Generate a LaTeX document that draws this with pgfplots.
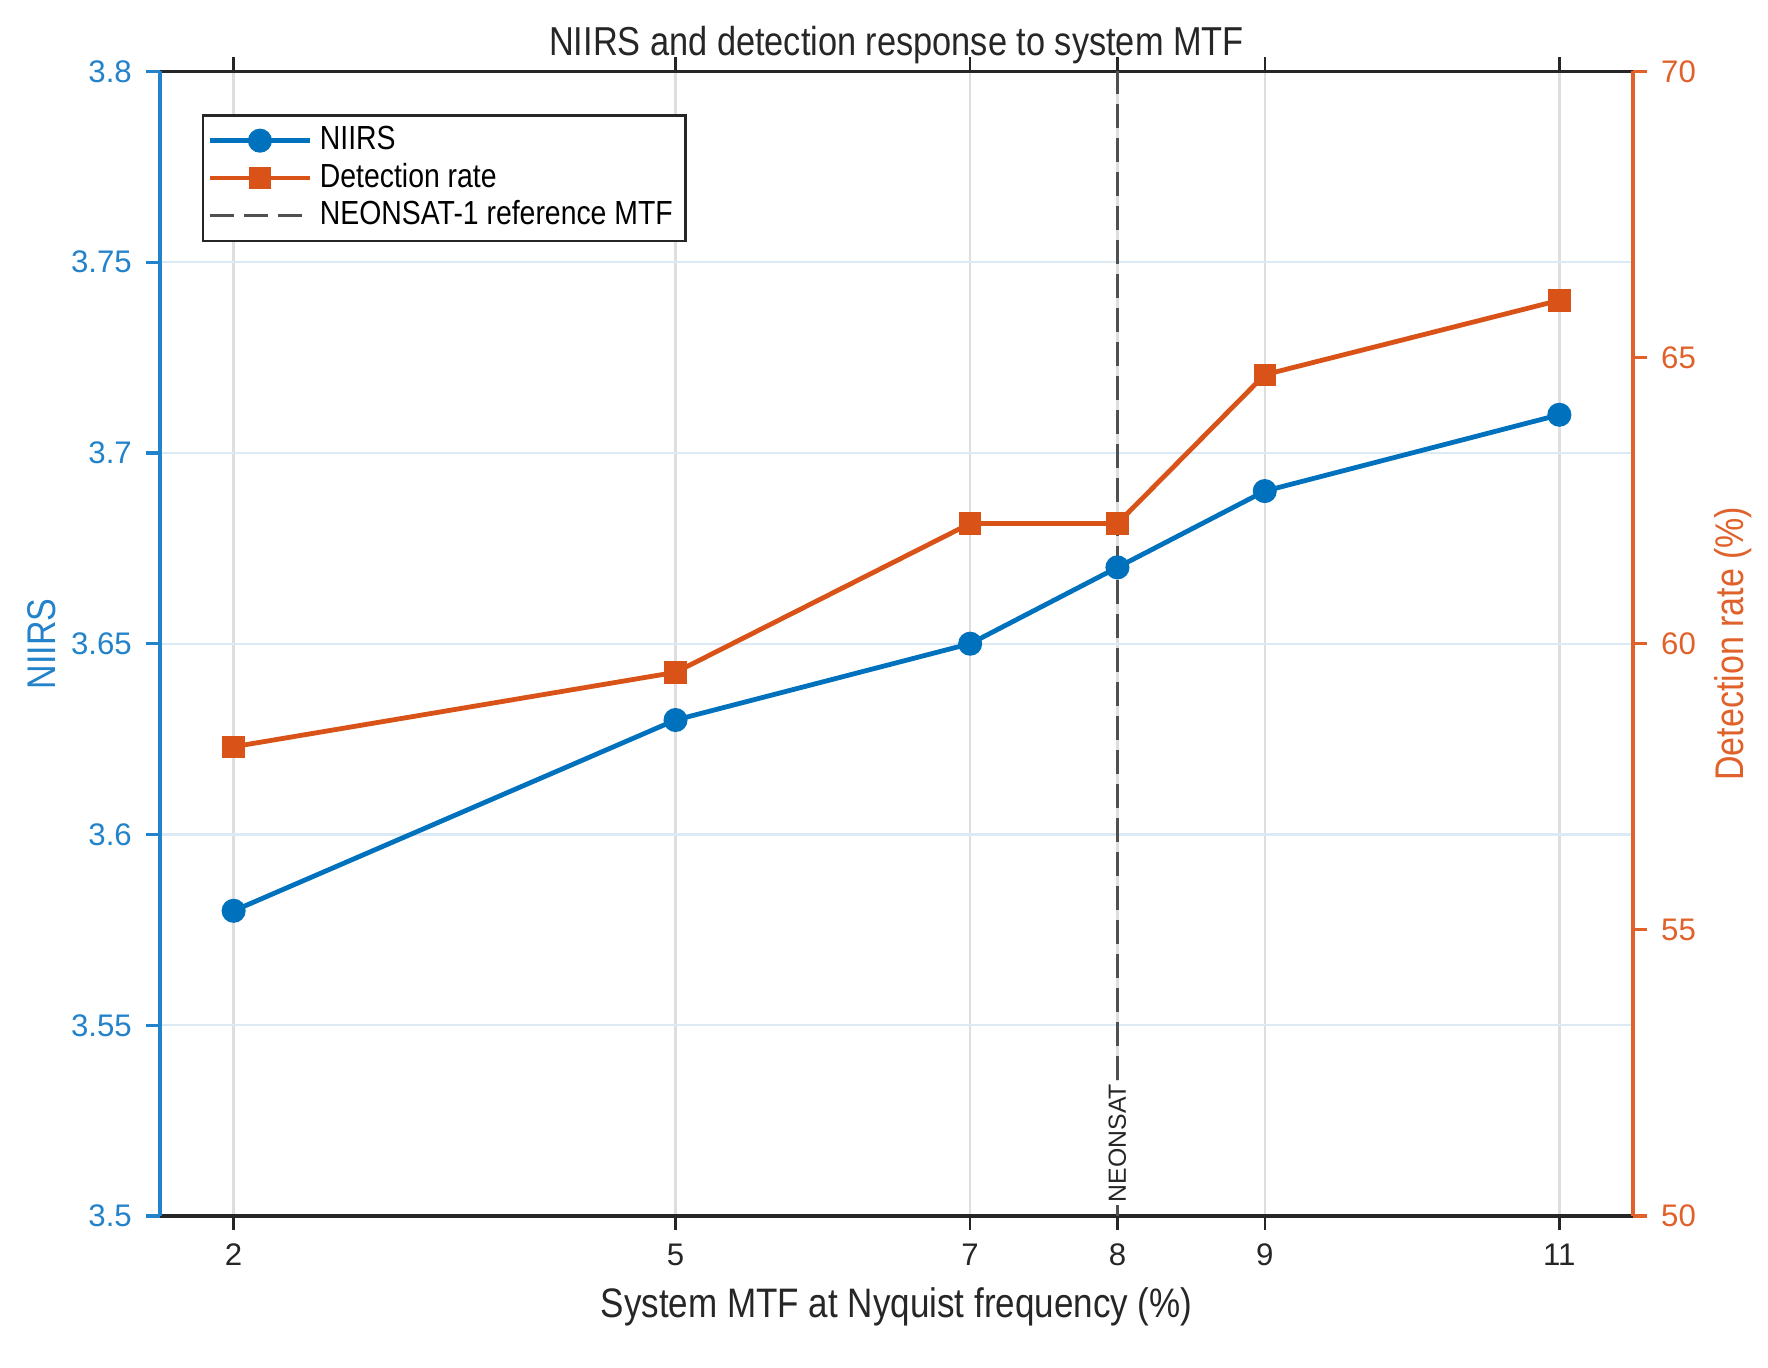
\documentclass[border=0pt]{standalone}
\usepackage{pgfplots}
\pgfplotsset{compat=1.18}
\usepackage{pgfplotstable}
\usepackage{fontspec}
\setmainfont{Liberation Sans}[FakeStretch=0.85]
\newfontfamily\plainsans{Liberation Sans}
\definecolor{niirsblue}{HTML}{0072BD}
\definecolor{axblue}{HTML}{2282CA}
\definecolor{detorange}{HTML}{D95319}
\definecolor{axorange}{HTML}{E0612A}
\definecolor{axdark}{HTML}{262626}
\definecolor{refgray}{HTML}{505050}
\definecolor{xgridc}{HTML}{DEDEDE}
\definecolor{ygridc}{HTML}{DCEAF6}

\pgfplotstableread{
x niirs det
2 3.58 58.2
5 3.63 59.5
7 3.65 62.1
8 3.67 62.1
9 3.69 64.7
11 3.71 66.0
}\mydata

\begin{document}
\begin{tikzpicture}
\useasboundingbox (-40pt,-37.75pt) rectangle (402.05pt,304.05pt);
\pgfplotsset{
  common/.style={
    scale only axis, width=368.3pt, height=286.2pt,
    xmin=1.5, xmax=11.5,
    xtick={2,5,7,8,9,11},
    tick align=outside,
    major tick length=3.5pt,
    /pgf/number format/assume math mode=true,
    tick label style={font=\plainsans\fontsize{7.8}{9}\selectfont},
  },
}
\begin{axis}[common,
  ymin=3.5, ymax=3.8,
  ytick={3.5,3.55,3.6,3.65,3.7,3.75,3.8},
  yticklabels={3.5,3.55,3.6,3.65,3.7,3.75,3.8},
  axis x line*=box, axis y line*=left,
  x axis line style={axdark, line width=0.8pt},
  y axis line style={axblue, line width=0.8pt},
  xtick style={axdark, line width=0.6pt},
  ytick style={axblue, line width=0.8pt},
  yticklabel style={text=axblue},
  xticklabel style={text=axdark},
  xmajorgrids, ymajorgrids,
  x grid style={xgridc, line width=0.6pt},
  y grid style={ygridc, line width=0.6pt},
  ylabel={NIIRS},
  every axis y label/.style={at={(axis description cs:-0.0801,0.5)}, rotate=90, anchor=center, text=axblue, font=\fontsize{10}{12}\selectfont},
  xlabel={System MTF at Nyquist frequency (\%)},
  every axis x label/.style={at={(axis description cs:0.5,-0.0793)}, anchor=center, text=axdark, font=\fontsize{10.3}{12}\selectfont},
  title={NIIRS and detection response to system MTF},
  every axis title/.style={at={(axis description cs:0.5,1.0227)}, anchor=center, text=axdark, font=\fontsize{10.1}{12}\selectfont},
  legend image code/.code={\draw[mark repeat=2,mark phase=2,#1] plot coordinates {(0pt,0pt) (12.4pt,0pt) (24.8pt,0pt)};},
  legend style={at={(axis description cs:0.0285,0.9624)}, anchor=north west, draw=axdark, line width=0.6pt, fill=white, font=\fontsize{8.35}{9}\selectfont, inner xsep=1.2pt, inner ysep=0.6pt, row sep=-2.1pt},
  legend cell align=left,
]
\addplot[niirsblue, line width=1.2pt, mark=*, mark size=2.4pt, mark options={fill=niirsblue}] table[x=x,y=niirs]{\mydata};
\addlegendentry{NIIRS}
\addlegendimage{detorange, line width=1.2pt, mark=square*, mark size=2.2pt, mark options={fill=detorange}}
\addlegendentry{Detection rate}
\addplot[refgray, line width=0.7pt, dash pattern=on 6pt off 2.5pt] coordinates {(8,3.5) (8,3.8)};
\addlegendentry{NEONSAT-1 reference MTF}
\node[rotate=90, anchor=west, fill=white, inner sep=0.8pt, text=axdark, font=\plainsans\fontsize{6.2}{7}\selectfont] at ([yshift=2.5pt]axis cs:8,3.5) {NEONSAT};
\end{axis}
\begin{axis}[common,
  ymin=50, ymax=70,
  ytick={50,55,60,65,70},
  axis y line*=right, axis x line=none,
  y axis line style={axorange, line width=0.8pt},
  ytick style={axorange, line width=0.8pt},
  yticklabel style={text=axorange},
  ylabel={Detection rate (\%)},
  every axis y label/.style={at={(axis description cs:1.0679,0.5)}, rotate=90, anchor=center, text=axorange, font=\fontsize{10}{12}\selectfont},
]
\addplot[detorange, line width=1.2pt, mark=square*, mark size=2.2pt, mark options={fill=detorange}] table[x=x,y=det]{\mydata};
\end{axis}
\end{tikzpicture}
\end{document}
